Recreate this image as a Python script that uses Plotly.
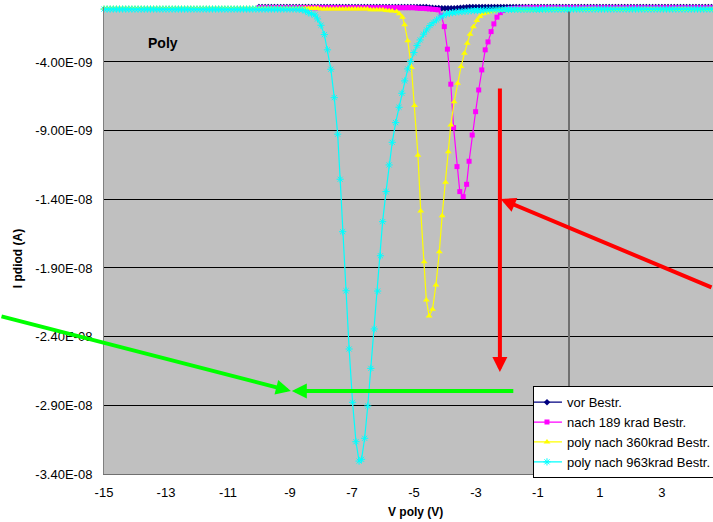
import plotly.graph_objects as go

# ---------------- data (current in nA, voltage in V) ----------------
V_VOR = [
 -10.0,-9.9,-9.8,-9.7,-9.6,-9.5,-9.4,-9.3,-9.2,-9.1,
 -9.0,-8.9,-8.8,-8.7,-8.6,-8.5,-8.4,-8.3,-8.2,-8.1,
 -8.0,-7.9,-7.8,-7.7,-7.6,-7.5,-7.4,-7.3,-7.2,-7.1,
 -7.0,-6.9,-6.8,-6.7,-6.6,-6.5,-6.4,-6.3,-6.2,-6.1,
 -6.0,-5.9,-5.8,-5.7,-5.6,-5.5,-5.4,-5.3,-5.2,-5.1,
 -5.0,-4.9,-4.8,-4.7,-4.6,-4.5,-4.4,-4.3,-4.2,-4.1,
 -4.0,-3.9,-3.8,-3.7,-3.6,-3.5,-3.4,-3.3,-3.2,-3.1,
 -3.0,-2.9,-2.8,-2.7,-2.6,-2.5,-2.4,-2.3,-2.2,-2.1,
 -2.0,-1.9,-1.8,-1.7,-1.6,-1.5,-1.4,-1.3,-1.2,-1.1,
 -1.0,-0.9,-0.8,-0.7,-0.6,-0.5,-0.4,-0.3,-0.2,-0.1,
 0.0,0.1,0.2,0.3,0.4,0.5,0.6,0.7,0.8,0.9,
 1.0,1.1,1.2,1.3,1.4,1.5,1.6,1.7,1.8,1.9,
 2.0,2.1,2.2,2.3,2.4,2.5,2.6,2.7,2.8,2.9,
 3.0,3.1,3.2,3.3,3.4,3.5,3.6,3.7,3.8,3.9,
 4.0,4.1,4.2,4.3,4.4,4.5,4.6,4.7,4.8,4.9,
 5.0]
I_VOR = [
 0.0,0.0,0.0,0.0,0.0,0.0,0.0,0.0,0.0,0.0,
 0.0,0.0,0.0,0.0,0.0,0.0,0.0,0.0,0.0,0.0,
 0.0,0.0,0.0,0.0,0.0,0.0,0.0,0.0,0.0,0.0,
 0.0,0.0,0.0,0.0,0.0,0.0,0.0,0.0,0.0,0.0,
 0.0,0.0,0.0,0.0,0.0,0.0,0.0,0.0,0.0,0.0,
 0.0,0.0,0.0,0.0,0.0,-0.03,-0.05,-0.07,-0.08,-0.09,
 -0.10,-0.10,-0.10,-0.09,-0.08,-0.06,-0.04,-0.02,0.0,0.0,
 0.0,0.0,0.0,0.0,0.0,0.0,0.0,0.0,0.0,0.0,
 0.0,0.0,0.0,0.0,0.0,0.0,0.0,0.0,0.0,0.0,
 0.0,0.0,0.0,0.0,0.0,0.0,0.0,0.0,0.0,0.0,
 0.0,0.0,0.0,0.0,0.0,0.0,0.0,0.0,0.0,0.0,
 0.0,0.0,0.0,0.0,0.0,0.0,0.0,0.0,0.0,0.0,
 0.0,0.0,0.0,0.0,0.0,0.0,0.0,0.0,0.0,0.0,
 0.0,0.0,0.0,0.0,0.0,0.0,0.0,0.0,0.0,0.0,
 0.0,0.0,0.0,0.0,0.0,0.0,0.0,0.0,0.0,0.0,
 0.0]

V_189 = [
 -10.0,-9.9,-9.8,-9.7,-9.6,-9.5,-9.4,-9.3,-9.2,-9.1,
 -9.0,-8.9,-8.8,-8.7,-8.6,-8.5,-8.4,-8.3,-8.2,-8.1,
 -8.0,-7.9,-7.8,-7.7,-7.6,-7.5,-7.4,-7.3,-7.2,-7.1,
 -7.0,-6.9,-6.8,-6.7,-6.6,-6.5,-6.4,-6.3,-6.2,-6.1,
 -6.0,-5.9,-5.8,-5.7,-5.6,-5.5,-5.4,-5.3,-5.2,-5.1,
 -5.0,-4.9,-4.8,-4.7,-4.6,-4.5,-4.4,-4.3,
 -4.22,-4.12,-4.02,-3.92,-3.81,-3.72,-3.61,-3.52,-3.41,-3.30,
 -3.22,-3.12,-3.01,-2.91,-2.81,-2.70,-2.61,-2.51,-2.42,-2.32,
 -2.21,-2.11,
 -2.0,-1.9,-1.8,-1.7,-1.6,-1.5,-1.4,-1.3,-1.2,-1.1,
 -1.0,-0.9,-0.8,-0.7,-0.6,-0.5,-0.4,-0.3,-0.2,-0.1,
 0.0,0.1,0.2,0.3,0.4,0.5,0.6,0.7,0.8,0.9,
 1.0,1.1,1.2,1.3,1.4,1.5,1.6,1.7,1.8,1.9,
 2.0,2.1,2.2,2.3,2.4,2.5,2.6,2.7,2.8,2.9,
 3.0,3.1,3.2,3.3,3.4,3.5,3.6,3.7,3.8,3.9,
 4.0,4.1,4.2,4.3,4.4,4.5,4.6,4.7,4.8,4.9,
 5.0]
I_189 = [
 -0.05,-0.05,-0.05,-0.05,-0.05,-0.05,-0.05,-0.05,-0.05,-0.05,
 -0.05,-0.05,-0.05,-0.05,-0.05,-0.05,-0.05,-0.05,-0.05,-0.05,
 -0.05,-0.05,-0.05,-0.05,-0.05,-0.05,-0.05,-0.05,-0.05,-0.05,
 -0.05,-0.05,-0.05,-0.05,-0.05,-0.05,-0.05,-0.05,-0.05,-0.05,
 -0.05,-0.05,-0.05,-0.05,-0.05,-0.05,-0.05,-0.05,-0.05,-0.05,
 -0.05,-0.08,-0.10,-0.10,-0.12,-0.14,-0.16,-0.18,
 -0.21,-0.60,-1.43,-3.07,-5.62,-8.78,-11.62,-13.44,-13.81,-12.91,
 -11.23,-9.32,-7.62,-6.04,-4.58,-3.12,-2.54,-1.79,-1.23,-0.74,
 -0.41,-0.25,
 -0.15,-0.12,-0.10,-0.09,-0.08,-0.07,-0.06,-0.05,-0.05,-0.05,
 -0.05,-0.05,-0.05,-0.05,-0.05,-0.05,-0.05,-0.05,-0.05,-0.05,
 -0.05,-0.05,-0.05,-0.05,-0.05,-0.05,-0.05,-0.05,-0.05,-0.05,
 -0.05,-0.05,-0.05,-0.05,-0.05,-0.05,-0.05,-0.05,-0.05,-0.05,
 -0.05,-0.05,-0.05,-0.05,-0.05,-0.05,-0.05,-0.05,-0.05,-0.05,
 -0.05,-0.05,-0.05,-0.05,-0.05,-0.05,-0.05,-0.05,-0.05,-0.05,
 -0.05,-0.05,-0.05,-0.05,-0.05,-0.05,-0.05,-0.05,-0.05,-0.05,
 -0.05]

V_360 = [
 -15.0,-14.9,-14.8,-14.7,-14.6,-14.5,-14.4,-14.3,-14.2,-14.1,
 -14.0,-13.9,-13.8,-13.7,-13.6,-13.5,-13.4,-13.3,-13.2,-13.1,
 -13.0,-12.9,-12.8,-12.7,-12.6,-12.5,-12.4,-12.3,-12.2,-12.1,
 -12.0,-11.9,-11.8,-11.7,-11.6,-11.5,-11.4,-11.3,-11.2,-11.1,
 -11.0,-10.9,-10.8,-10.7,-10.6,-10.5,-10.4,-10.3,-10.2,-10.1,
 -10.0,-9.9,-9.8,-9.7,-9.6,-9.5,-9.4,-9.3,-9.2,-9.1,
 -9.0,-8.9,-8.8,-8.7,-8.6,-8.5,-8.4,-8.3,-8.2,-8.1,
 -8.0,-7.9,-7.8,-7.7,-7.6,-7.5,-7.4,-7.3,-7.2,-7.1,
 -7.0,-6.9,-6.8,-6.7,-6.6,-6.5,-6.4,-6.3,-6.2,-6.1,
 -6.0,-5.9,-5.8,-5.7,
 -5.56,-5.47,-5.37,-5.30,-5.20,-5.08,-4.98,-4.87,-4.78,-4.67,
 -4.60,-4.51,-4.40,-4.29,-4.18,-4.09,-3.98,-3.89,-3.81,-3.70,
 -3.59,-3.48,-3.37,-3.28,-3.19,-3.08,-2.97,-2.87,-2.76,-2.65,
 -2.55,-2.45,-2.35,-2.25,-2.15,-2.05,-1.95,-1.85,-1.75,
 -1.65,-1.55,-1.45,-1.35,-1.25,-1.15,-1.05,-0.95,-0.85,-0.75,
 -0.65,-0.55,-0.45,-0.35,-0.25,-0.15,-0.05,0.05,0.15,0.25,
 0.35,0.45,0.55,0.65,0.75,0.85,0.95,1.05,1.15,1.25,
 1.35,1.45,1.55,1.65,1.75,1.85,1.95,2.05,2.15,2.25,
 2.35,2.45,2.55,2.65,2.75,2.85,2.95,3.05,3.15,3.25,
 3.35,3.45,3.55,3.65,3.75,3.85,3.95,4.05,4.15,4.25,
 4.35,4.45,4.55,4.65,4.75,4.85,4.95]
I_360 = [
 -0.10,-0.10,-0.10,-0.10,-0.10,-0.10,-0.10,-0.10,-0.10,-0.10,
 -0.10,-0.10,-0.10,-0.10,-0.10,-0.10,-0.10,-0.10,-0.10,-0.10,
 -0.10,-0.10,-0.10,-0.10,-0.10,-0.10,-0.10,-0.10,-0.10,-0.10,
 -0.10,-0.10,-0.10,-0.10,-0.10,-0.10,-0.10,-0.10,-0.10,-0.10,
 -0.10,-0.10,-0.10,-0.10,-0.10,-0.10,-0.10,-0.10,-0.10,-0.10,
 -0.10,-0.10,-0.10,-0.10,-0.10,-0.10,-0.10,-0.10,-0.10,-0.10,
 -0.10,-0.10,-0.10,-0.10,-0.10,-0.10,-0.10,-0.10,-0.10,-0.10,
 -0.15,-0.15,-0.15,-0.15,-0.15,-0.15,-0.15,-0.15,-0.15,-0.15,
 -0.15,-0.15,-0.15,-0.15,-0.15,-0.15,-0.20,-0.20,-0.20,-0.20,
 -0.20,-0.25,-0.27,-0.30,
 -0.33,-0.50,-0.74,-1.30,-2.45,-4.41,-7.18,-10.79,-14.85,-18.54,
 -21.33,-22.50,-22.01,-20.24,-17.81,-15.19,-12.76,-10.53,-8.59,-6.89,
 -5.55,-4.34,-3.37,-2.64,-1.98,-1.43,-0.99,-0.70,-0.50,-0.41,
 -0.35,-0.31,-0.28,-0.26,-0.24,-0.23,-0.22,-0.21,-0.20,
 -0.20,-0.20,-0.20,-0.20,-0.20,-0.20,-0.20,-0.20,-0.20,-0.20,
 -0.19,-0.19,-0.19,-0.19,-0.19,-0.19,-0.19,-0.19,-0.19,-0.19,
 -0.18,-0.18,-0.18,-0.18,-0.18,-0.18,-0.18,-0.18,-0.18,-0.18,
 -0.18,-0.18,-0.18,-0.18,-0.18,-0.18,-0.18,-0.18,-0.18,-0.18,
 -0.18,-0.18,-0.18,-0.18,-0.18,-0.18,-0.18,-0.18,-0.18,-0.18,
 -0.18,-0.18,-0.18,-0.18,-0.18,-0.18,-0.18,-0.18,-0.18,-0.18,
 -0.18,-0.18,-0.18,-0.18,-0.18,-0.18,-0.18]

V_963 = [
 -15.0,-14.9,-14.8,-14.7,-14.6,-14.5,-14.4,-14.3,-14.2,-14.1,
 -14.0,-13.9,-13.8,-13.7,-13.6,-13.5,-13.4,-13.3,-13.2,-13.1,
 -13.0,-12.9,-12.8,-12.7,-12.6,-12.5,-12.4,-12.3,-12.2,-12.1,
 -12.0,-11.9,-11.8,-11.7,-11.6,-11.5,-11.4,-11.3,-11.2,-11.1,
 -11.0,-10.9,-10.8,-10.7,-10.6,-10.5,-10.4,-10.3,-10.2,-10.1,
 -10.0,-9.9,-9.8,-9.7,-9.6,-9.5,-9.4,-9.3,-9.2,-9.1,
 -9.0,-8.9,-8.8,-8.7,-8.6,-8.5,
 -8.41,-8.30,-8.19,-8.11,-8.00,-7.89,-7.79,-7.68,-7.57,-7.46,
 -7.38,-7.30,-7.19,-7.09,-6.98,-6.87,-6.77,-6.69,-6.59,-6.49,
 -6.39,-6.28,-6.17,-6.08,-6.01,-5.90,-5.80,-5.70,-5.59,-5.48,
 -5.39,-5.30,-5.20,-5.11,-5.00,-4.90,-4.80,-4.69,-4.59,-4.48,
 -4.38,-4.27,-4.16,-4.05,-3.95,
 -3.85,-3.75,-3.65,-3.55,-3.45,-3.35,-3.25,-3.15,-3.05,-2.95,
 -2.85,-2.75,-2.65,-2.55,-2.45,-2.35,-2.25,-2.15,-2.05,-1.95,
 -1.85,-1.75,-1.65,-1.55,-1.45,-1.35,-1.25,-1.15,-1.05,-0.95,
 -0.85,-0.75,-0.65,-0.55,-0.45,-0.35,-0.25,-0.15,-0.05,0.05,
 0.15,0.25,0.35,0.45,0.55,0.65,0.75,0.85,0.95,1.05,
 1.15,1.25,1.35,1.45,1.55,1.65,1.75,1.85,1.95,2.05,
 2.15,2.25,2.35,2.45,2.55,2.65,2.75,2.85,2.95,3.05,
 3.15,3.25,3.35,3.45,3.55,3.65,3.75,3.85,3.95,4.05,
 4.15,4.25,4.35,4.45,4.55,4.65,4.75,4.85,4.95]
I_963 = [
 -0.15,-0.15,-0.15,-0.15,-0.15,-0.15,-0.15,-0.15,-0.15,-0.15,
 -0.15,-0.15,-0.15,-0.15,-0.15,-0.15,-0.15,-0.15,-0.15,-0.15,
 -0.15,-0.15,-0.15,-0.15,-0.15,-0.15,-0.15,-0.15,-0.15,-0.15,
 -0.15,-0.15,-0.15,-0.15,-0.15,-0.15,-0.15,-0.15,-0.15,-0.15,
 -0.15,-0.15,-0.15,-0.15,-0.15,-0.15,-0.15,-0.15,-0.15,-0.15,
 -0.15,-0.15,-0.15,-0.15,-0.15,-0.15,-0.15,-0.15,-0.15,-0.15,
 -0.15,-0.15,-0.15,-0.17,-0.20,-0.28,
 -0.41,-0.50,-0.58,-0.87,-1.33,-2.01,-3.12,-4.53,-6.60,-9.26,
 -12.54,-16.36,-20.66,-24.90,-28.78,-31.65,-33.06,-32.93,-31.40,-29.05,
 -26.31,-23.44,-20.68,-18.11,-15.63,-13.44,-11.50,-9.85,-8.42,-7.30,
 -6.28,-5.38,-4.51,-3.98,-3.32,-2.81,-2.40,-1.98,-1.67,-1.35,
 -1.14,-0.94,-0.74,-0.63,-0.50,
 -0.45,-0.41,-0.38,-0.35,-0.33,-0.31,-0.29,-0.27,-0.26,-0.25,
 -0.24,-0.23,-0.22,-0.21,-0.20,-0.20,-0.19,-0.19,-0.18,-0.18,
 -0.17,-0.17,-0.17,-0.17,-0.17,-0.17,-0.17,-0.17,-0.17,-0.17,
 -0.16,-0.16,-0.16,-0.16,-0.16,-0.16,-0.16,-0.16,-0.16,-0.16,
 -0.15,-0.15,-0.15,-0.15,-0.15,-0.15,-0.15,-0.15,-0.15,-0.15,
 -0.15,-0.15,-0.15,-0.15,-0.15,-0.15,-0.15,-0.15,-0.15,-0.15,
 -0.15,-0.15,-0.15,-0.15,-0.15,-0.15,-0.15,-0.15,-0.15,-0.15,
 -0.15,-0.15,-0.15,-0.15,-0.15,-0.15,-0.15,-0.15,-0.15,-0.15,
 -0.15,-0.15,-0.15,-0.15,-0.15,-0.15,-0.15,-0.15,-0.15]

SERIES_NAMES = ["vor Bestr.", "nach 189 krad Bestr.",
                "poly nach 360krad Bestr.", "poly nach 963krad Bestr."]
X_TICKS = [-15, -13, -11, -9, -7, -5, -3, -1, 1, 3]
Y_TICKS = [-4.0e-9, -9.0e-9, -1.4e-8, -1.9e-8, -2.4e-8, -2.9e-8, -3.4e-8]
Y_TICK_TEXT = ["-4.00E-09", "-9.00E-09", "-1.40E-08", "-1.90E-08",
               "-2.40E-08", "-2.90E-08", "-3.40E-08"]

NA = 1e-9
FONT = "Arial, 'Liberation Sans', sans-serif"

styles = [
    dict(color="#000080", symbol="diamond", size=5, lw=0),
    dict(color="#FF00FF", symbol="square", size=5, lw=0),
    dict(color="#FFFF00", symbol="triangle-up", size=6, lw=0),
    dict(color="#00FFFF", symbol="asterisk-open", size=6, lw=1),
]
data = [(V_VOR, I_VOR), (V_189, I_189), (V_360, I_360), (V_963, I_963)]

fig = go.Figure()
for (vx, iy), name, st in zip(data, SERIES_NAMES, styles):
    fig.add_trace(go.Scatter(
        x=vx, y=[v * NA for v in iy], name=name, mode="lines+markers",
        line=dict(color=st["color"], width=1.2),
        marker=dict(symbol=st["symbol"], size=st["size"], color=st["color"],
                    line=dict(color=st["color"], width=st["lw"])),
        cliponaxis=False,
    ))

annotations = [
    dict(x=-13.1, y=-2.59 * NA, xref="x", yref="y", text="<b>Poly</b>",
         showarrow=False, font=dict(family=FONT, size=14, color="black")),
    dict(x=0.5107, y=-0.081, xref="paper", yref="paper", text="<b>V poly (V)</b>",
         xanchor="center", yanchor="middle",
         showarrow=False, font=dict(family=FONT, size=12, color="black")),
    dict(x=-0.1412, y=0.46, xref="paper", yref="paper", text="<b>I pdiod (A)</b>",
         xanchor="center", yanchor="middle",
         textangle=-90, showarrow=False,
         font=dict(family=FONT, size=12, color="black")),
    # red arrows
    dict(x=-2.226, y=-26.58 * NA, xref="x", yref="y", ax=0, ay=-285,
         text="", showarrow=True, arrowhead=2, arrowsize=0.75, arrowwidth=4,
         arrowcolor="#FF0000", standoff=0),
    dict(x=-2.203, y=-13.98 * NA, xref="x", yref="y", ax=240, ay=89,
         text="", showarrow=True, arrowhead=2, arrowsize=0.75, arrowwidth=4,
         arrowcolor="#FF0000", standoff=0),
    # green arrows
    dict(x=-8.97, y=-27.96 * NA, xref="x", yref="y", ax=-300, ay=-75,
         text="", showarrow=True, arrowhead=2, arrowsize=0.75, arrowwidth=4,
         arrowcolor="#00FF00", standoff=0),
    dict(x=-8.94, y=-27.96 * NA, xref="x", yref="y", ax=223, ay=0,
         text="", showarrow=True, arrowhead=2, arrowsize=0.75, arrowwidth=4,
         arrowcolor="#00FF00", standoff=0),
]

fig.update_layout(
    width=713, height=522,
    margin=dict(l=104, r=0, t=7, b=48, autoexpand=False),
    paper_bgcolor="white", plot_bgcolor="#C0C0C0",
    font=dict(family=FONT, size=13, color="black"),
    showlegend=True,
    legend=dict(x=0.7044, y=0.188, xanchor="left", yanchor="top",
                bgcolor="white", bordercolor="black", borderwidth=1,
                font=dict(family=FONT, size=13, color="black"),
                itemwidth=30, tracegroupgap=0, indentation=-7),
    annotations=annotations,
    xaxis=dict(range=[-15, 4.65], tickmode="array", tickvals=X_TICKS,
               ticktext=[str(t) for t in X_TICKS], showgrid=False,
               zeroline=True, zerolinecolor="#707070", zerolinewidth=2,
               showline=True, linecolor="#707070", linewidth=1,
               ticks="", ticklabelstandoff=6,
               tickfont=dict(family=FONT, size=13, color="black")),
    yaxis=dict(range=[-3.4e-8, 0], tickmode="array", tickvals=Y_TICKS,
               ticktext=Y_TICK_TEXT, showgrid=True, gridcolor="black",
               gridwidth=1, zeroline=False, showline=True,
               linecolor="#808080", linewidth=1, ticks="",
               ticklabelstandoff=8,
               tickfont=dict(family=FONT, size=13, color="black")),
)

fig.write_html("out.html", config={"displayModeBar": False},
               post_script="document.body.style.margin='0px';document.body.style.overflow='hidden';")
